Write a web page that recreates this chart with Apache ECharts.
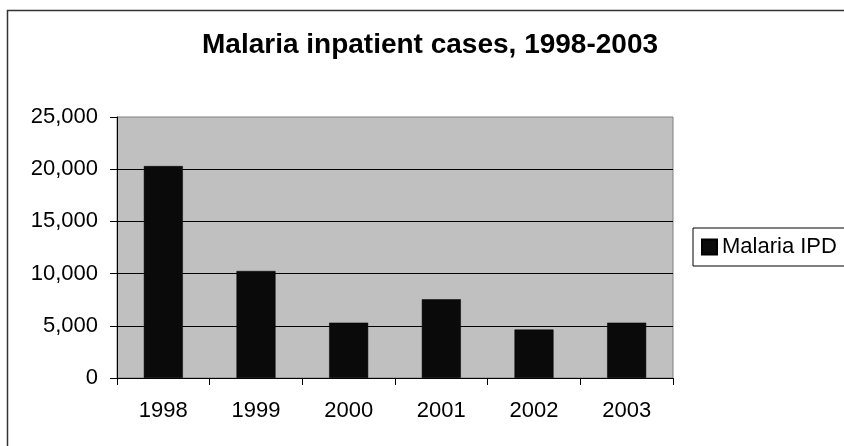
<!DOCTYPE html>
<html>
<head>
<meta charset="utf-8">
<title>Malaria inpatient cases</title>
<script src="https://cdn.jsdelivr.net/npm/echarts@6/dist/echarts.min.js"></script>
<style>
  html, body { margin: 0; padding: 0; background: #fff; }
  #chart { width: 844px; height: 446px; }
</style>
</head>
<body>
<div id="chart"></div>
<script>
// data
var years = ['1998', '1999', '2000', '2001', '2002', '2003'];
var malariaIPD = [20300, 10250, 5300, 7540, 4640, 5300];
var yTicks = { min: 0, max: 25000, step: 5000 };

var font = '"Liberation Sans", Arial, sans-serif';

var chart = echarts.init(document.getElementById('chart'));

var option = {
  animation: false,
  backgroundColor: '#fff',
  title: {
    text: 'Malaria inpatient cases, 1998-2003',
    left: 202,
    top: 31,
    padding: 0,
    textStyle: { fontFamily: font, fontSize: 28, fontWeight: 'bold', color: '#000' }
  },
  legend: {
    left: 693,
    top: 228,
    orient: 'vertical',
    padding: [8, 30, 8, 8],
    borderColor: '#000',
    borderWidth: 1,
    itemWidth: 15,
    itemHeight: 15,
    icon: 'rect',
    textStyle: { fontFamily: font, fontSize: 22, color: '#000' },
    data: ['Malaria IPD']
  },
  grid: {
    left: 117,
    top: 117,
    right: 171,
    bottom: 68,
    show: true,
    backgroundColor: '#c0c0c0',
    borderColor: '#808080',
    borderWidth: 1
  },
  xAxis: {
    type: 'category',
    data: years,
    axisLine: { lineStyle: { color: '#000', width: 1 } },
    axisTick: { show: true, length: 7, lineStyle: { color: '#000' } },
    axisLabel: { margin: 22, fontFamily: font, fontSize: 22, color: '#000' }
  },
  yAxis: {
    type: 'value',
    min: yTicks.min,
    max: yTicks.max,
    interval: yTicks.step,
    axisLine: { show: true, lineStyle: { color: '#000', width: 1 } },
    axisTick: { show: true, length: 7, lineStyle: { color: '#000' } },
    axisLabel: {
      margin: 19,
      fontFamily: font,
      fontSize: 22,
      color: '#000',
      formatter: function (v) { return v.toLocaleString('en-US'); }
    },
    splitLine: { show: true, showMinLine: false, showMaxLine: false, lineStyle: { color: '#000', width: 1 } }
  },
  // outer chart frame, runs off the right and bottom edges
  graphic: [{
    type: 'rect',
    z: -1,
    shape: { x: 7.5, y: 10.5, width: 900, height: 500 },
    style: { fill: null, stroke: '#333', lineWidth: 1.5 }
  }],
  series: [{
    name: 'Malaria IPD',
    type: 'bar',
    data: malariaIPD,
    barWidth: 39,
    itemStyle: { color: '#0a0a0a', borderColor: '#000', borderWidth: 0.5 }
  }]
};

chart.setOption(option);
</script>
</body>
</html>
